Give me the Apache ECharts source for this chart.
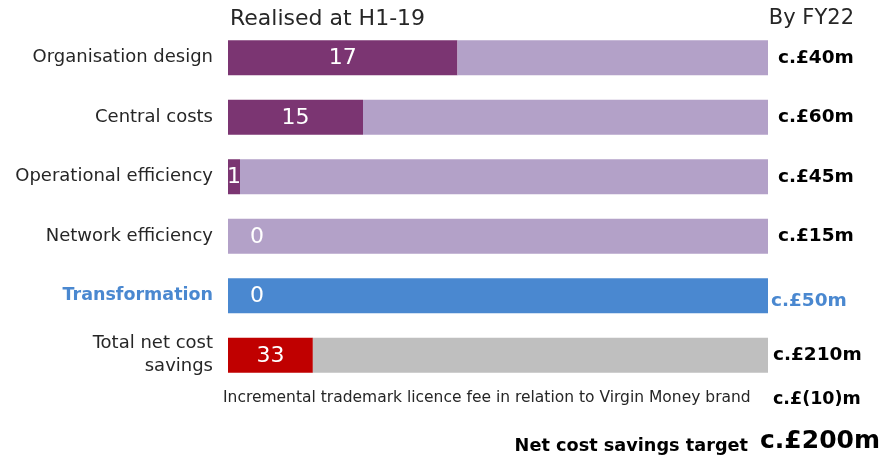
<!DOCTYPE html>
<html>
<head>
<meta charset="utf-8">
<script src="https://cdn.jsdelivr.net/npm/echarts@6/dist/echarts.min.js"></script>
<style>
  html, body { margin: 0; padding: 0; background: #ffffff; }
  #chart { width: 882px; height: 457px; }
</style>
</head>
<body>
<div id="chart"></div>
<script>
// Cost savings programme: realised to date vs. full-year target
const categories = ['Organisation design', 'Central costs', 'Operational efficiency', 'Network efficiency', 'Transformation', 'Total net cost\nsavings'];
const realised = [17, 15, 1, 0, 0, 33];          // £m realised at H1-19
const targets = [40, 60, 45, 15, 50, 210];        // £m targeted by FY22
const targetLabels = ['c.£40m', 'c.£60m', 'c.£45m', 'c.£15m', 'c.£50m', 'c.£210m'];
const adjustmentText = 'Incremental trademark licence fee in relation to Virgin Money brand';
const adjustmentLabel = 'c.£(10)m';
const netTargetText = 'Net cost savings target';
const netTargetLabel = 'c.£200m';

const FONT = '"DejaVu Sans", sans-serif';
const DARK = '#7b3572', LIGHT = '#b3a1c8', BLUE = '#4a88d0', RED = '#c00000', GREY = '#bfbfbf';
const doneColors = [DARK, DARK, DARK, DARK, BLUE, RED];
const restColors = [LIGHT, LIGHT, LIGHT, LIGHT, BLUE, GREY];

// Each bar is scaled to its own target: the realised share plus the remaining share
const doneData = realised.map((v, i) => ({
  value: v / targets[i] * 100,
  itemStyle: { color: doneColors[i] },
  label: v === 0 ? { offset: [29, 1] } : { offset: [0, 1] }
}));
const restData = realised.map((v, i) => ({
  value: 100 - v / targets[i] * 100,
  itemStyle: { color: restColors[i] },
  label: i === 4 ? { color: BLUE, offset: [-7, 5] } : (i === 5 ? { offset: [-5, 0] } : {})
}));

const chart = echarts.init(document.getElementById('chart'), null, { renderer: 'canvas' });
chart.setOption({
  animation: false,
  backgroundColor: '#ffffff',
  grid: { left: 228, right: 114, top: 28, height: 357 },
  xAxis: { type: 'value', min: 0, max: 100, show: false },
  yAxis: {
    type: 'category',
    inverse: true,
    data: categories,
    axisLine: { show: false },
    axisTick: { show: false },
    axisLabel: {
      margin: 15,
      fontFamily: FONT,
      fontSize: 18,
      color: '#262626',
      lineHeight: 23,
      formatter: v => v === 'Transformation' ? '{t|' + v + '}' : v,
      rich: { t: { fontFamily: FONT, fontSize: 17.5, fontWeight: 'bold', color: BLUE } }
    }
  },
  series: [
    {
      type: 'bar', stack: 'total', barWidth: 35,
      data: doneData,
      label: {
        show: true, position: 'inside', color: '#ffffff',
        fontFamily: FONT, fontSize: 22,
        formatter: p => String(realised[p.dataIndex])
      }
    },
    {
      type: 'bar', stack: 'total', barWidth: 35,
      data: restData,
      label: {
        show: true, position: 'right', distance: 10,
        fontFamily: FONT, fontSize: 18.5, fontWeight: 'bold', color: '#000000',
        formatter: p => targetLabels[p.dataIndex]
      }
    }
  ],
  graphic: [
    { type: 'text', left: 230, top: 8, style: { text: 'Realised at H1-19', font: '22px ' + FONT, fill: '#262626' } },
    { type: 'text', right: 28, top: 8, style: { text: 'By FY22', font: '21px ' + FONT, fill: '#262626' } },
    { type: 'text', left: 223, top: 390, style: { text: adjustmentText, font: '15.5px ' + FONT, fill: '#262626' } },
    { type: 'text', left: 773, top: 390, style: { text: adjustmentLabel, font: 'bold 17.5px ' + FONT, fill: '#000000' } },
    { type: 'text', right: 134, top: 437, style: { text: netTargetText, font: 'bold 17.7px ' + FONT, fill: '#000000' } },
    { type: 'text', right: 2, top: 429, style: { text: netTargetLabel, font: 'bold 25px ' + FONT, fill: '#000000' } }
  ]
});
</script>
</body>
</html>
